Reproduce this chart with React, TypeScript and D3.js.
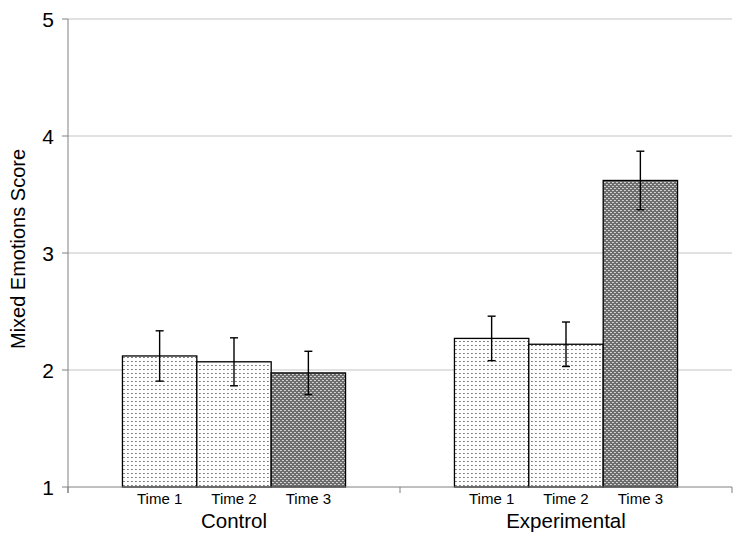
import React from "react";
import * as d3 from "d3";

const groups = ["Control", "Experimental"];
const times = ["Time 1", "Time 2", "Time 3"];
const controlMeans = [2.12, 2.07, 1.975];
const controlErr = [0.215, 0.205, 0.185];
const experimentalMeans = [2.27, 2.22, 3.62];
const experimentalErr = [0.19, 0.19, 0.25];
const yTicks = [1, 2, 3, 4, 5];

const W = 741;
const H = 540;
const M = { left: 68, right: 9, top: 19, bottom: 53 };

export default function App() {
  const y = d3.scaleLinear().domain([1, 5]).range([H - M.bottom, M.top]);
  const x0 = d3
    .scaleBand<string>()
    .domain(groups)
    .range([M.left, W - M.right])
    .paddingInner(0.328)
    .paddingOuter(0.164);
  const x1 = d3.scaleBand<string>().domain(times).range([0, x0.bandwidth()]).padding(0);

  const data = groups.map((g, gi) => ({
    group: g,
    bars: times.map((t, ti) => ({
      time: t,
      mean: gi === 0 ? controlMeans[ti] : experimentalMeans[ti],
      err: gi === 0 ? controlErr[ti] : experimentalErr[ti],
    })),
  }));

  const step = x0.step();
  const groupBoundaries = [M.left, M.left + step, M.left + 2 * step];
  const font = "Liberation Sans, Arial, sans-serif";
  const base = y(1);

  return (
    <svg width={W} height={H} style={{ position: "absolute", left: 0, top: 0 }}>
      <defs>
        <pattern id="lightDots" width={4} height={4} patternUnits="userSpaceOnUse">
          <rect width={4} height={4} fill="#fff" />
          <rect x={1} y={1} width={1} height={1} fill="#111" />
        </pattern>
        <pattern id="darkDots" width={4} height={4} patternUnits="userSpaceOnUse">
          <rect width={4} height={4} fill="#3c3c3c" />
          <rect x={1} y={0} width={1} height={1} fill="#a0a0a0" />
          <rect x={3} y={0} width={1} height={1} fill="#a0a0a0" />
          <rect x={0} y={1} width={1} height={1} fill="#a0a0a0" />
          <rect x={2} y={1} width={1} height={1} fill="#a0a0a0" />
          <rect x={1} y={2} width={1} height={1} fill="#a0a0a0" />
          <rect x={3} y={2} width={1} height={1} fill="#a0a0a0" />
          <rect x={0} y={3} width={1} height={1} fill="#a0a0a0" />
          <rect x={2} y={3} width={1} height={1} fill="#a0a0a0" />
          <rect x={0} y={0} width={1} height={1} fill="#fff" />
          <rect x={2} y={2} width={1} height={1} fill="#fff" />
        </pattern>
      </defs>
      <rect width={W} height={H} fill="#fff" />
      {/* gridlines */}
      {yTicks.filter((t) => t > 1).map((t) => (
        <line key={t} x1={M.left} x2={W - M.right} y1={y(t)} y2={y(t)} stroke="#c4c4c4" strokeWidth={1.2} />
      ))}
      {/* y axis */}
      <line x1={M.left} x2={M.left} y1={M.top} y2={base + 6} stroke="#808080" strokeWidth={1} />
      {yTicks.map((t) => (
        <g key={t}>
          <line x1={M.left - 6} x2={M.left} y1={y(t)} y2={y(t)} stroke="#808080" strokeWidth={1} />
          <text x={54} y={y(t) + 8} textAnchor="end" fontFamily={font} fontSize={21} fill="#000">
            {t}
          </text>
        </g>
      ))}
      <text
        transform={`translate(25, 249) rotate(-90)`}
        textAnchor="middle"
        fontFamily={font}
        fontSize={20}
        fill="#000"
      >
        Mixed Emotions Score
      </text>
      {/* bars */}
      {data.map((g) => (
        <g key={g.group} transform={`translate(${x0(g.group)},0)`}>
          {g.bars.map((b) => {
            const bx = x1(b.time)!;
            const cx = bx + x1.bandwidth() / 2;
            return (
              <g key={b.time}>
                <rect
                  x={bx}
                  y={y(b.mean)}
                  width={x1.bandwidth()}
                  height={base - y(b.mean)}
                  fill={b.time === "Time 3" ? "url(#darkDots)" : "url(#lightDots)"}
                  stroke="#000"
                  strokeWidth={1.3}
                />
                <line x1={cx} x2={cx} y1={y(b.mean + b.err)} y2={y(b.mean - b.err)} stroke="#000" strokeWidth={1.4} />
                <line x1={cx - 4} x2={cx + 4} y1={y(b.mean + b.err)} y2={y(b.mean + b.err)} stroke="#000" strokeWidth={1.4} />
                <line x1={cx - 4} x2={cx + 4} y1={y(b.mean - b.err)} y2={y(b.mean - b.err)} stroke="#000" strokeWidth={1.4} />
                <text x={cx} y={504} textAnchor="middle" fontFamily={font} fontSize={15} fill="#000">
                  {b.time}
                </text>
              </g>
            );
          })}
          <text x={x0.bandwidth() / 2} y={528} textAnchor="middle" fontFamily={font} fontSize={20.5} fill="#000">
            {g.group}
          </text>
        </g>
      ))}
      {/* x axis */}
      <line x1={M.left} x2={W - M.right} y1={base} y2={base} stroke="#808080" strokeWidth={1} />
      {groupBoundaries.map((bx, i) => (
        <line key={i} x1={bx} x2={bx} y1={base} y2={base + 6} stroke="#808080" strokeWidth={1} />
      ))}
    </svg>
  );
}
